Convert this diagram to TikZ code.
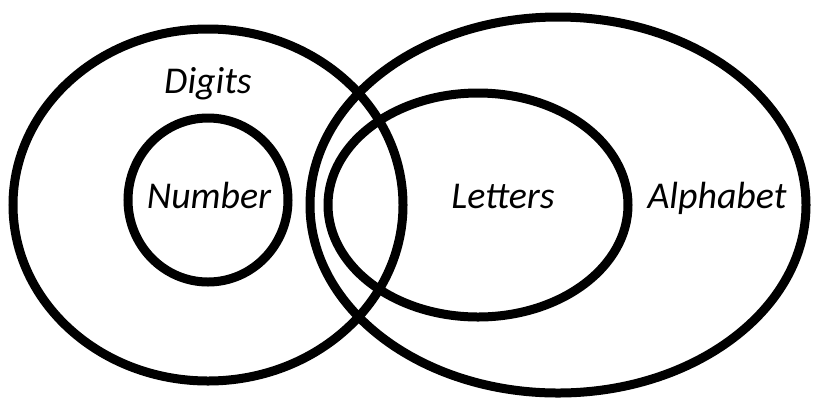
\documentclass[tikz,border=0pt]{standalone}
\usepackage{fontspec}
\setmainfont{Carlito}
\usetikzlibrary{shapes.geometric}
\tikzset{
    setRing/.style={ellipse, draw, line width=9bp, inner sep=0pt},
    setLabel/.style={font=\fontsize{38}{42}\selectfont\itshape, inner sep=0pt, anchor=base}
}
\begin{document}
\begin{tikzpicture}[x=1bp, y=-1bp]
\useasboundingbox (0,0) rectangle (813,399);
% outer sets
\node[setRing, minimum width=390bp, minimum height=352bp] (digits) at (208,205) {};
\node[setRing, minimum width=496bp, minimum height=376bp] (alphabet) at (558,205) {};
% inner sets
\node[setRing, minimum width=160bp, minimum height=164bp] (number) at (208,200) {};
\node[setRing, minimum width=300bp, minimum height=224bp] (letters) at (478,205) {};
% labels
\node[setLabel] (digitsLabel) at (208,93) {Digits};
\node[setLabel] (numberLabel) at (209,208) {Number};
\node[setLabel] (lettersLabel) at (503,208) {Letters};
\node[setLabel] (alphabetLabel) at (717,208) {Alphabet};
\end{tikzpicture}
\end{document}
